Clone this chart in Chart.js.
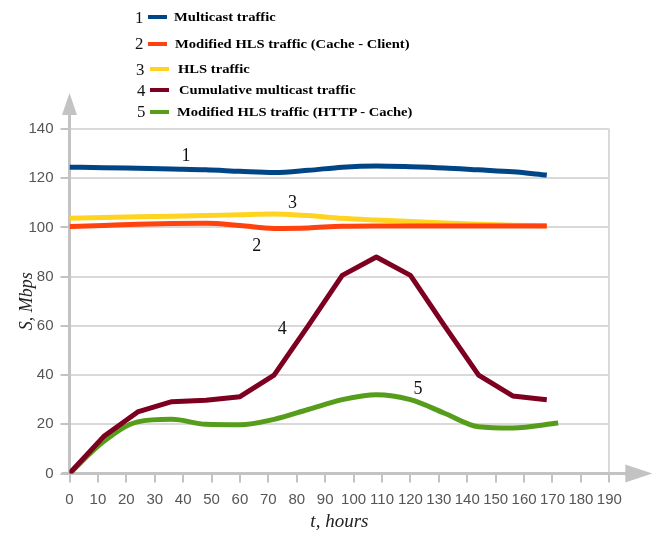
<!DOCTYPE html>
<html>
<head>
<meta charset="utf-8">
<script src="https://cdn.jsdelivr.net/npm/chart.js@4.4.1/dist/chart.umd.min.js"></script>
<style>
html,body{margin:0;padding:0;background:#fff;}
#wrap{position:relative;width:654px;height:535px;overflow:hidden;}
#c{position:absolute;left:0;top:0;}
.lnum{position:absolute;font-family:'Liberation Serif','Times New Roman',serif;font-size:16px;line-height:15px;color:#111;transform:scaleX(1.05);transform-origin:left center;}
.lsw{position:absolute;width:19px;height:4px;}
.ltxt{position:absolute;font-family:'Liberation Serif','Times New Roman',serif;font-weight:bold;font-size:12.8px;line-height:14px;color:#000;white-space:nowrap;transform:scaleX(1.14);transform-origin:left center;}
</style>
</head>
<body>
<div id="wrap">
<canvas id="c" width="654" height="535"></canvas>
<div id="legend"></div>
</div>
<script>
// ---- data ----
const hours = [0, 12, 24, 36, 48, 60, 72, 84, 96, 108, 120, 132, 144, 156, 168];
const hoursGreen = [0, 12, 24, 36, 48, 60, 72, 84, 96, 108, 120, 132, 144, 156, 172];
const multicast = [124.5, 124.3, 124, 123.7, 123.4, 122.8, 122.3, 123.2, 124.5, 125, 124.7, 124.2, 123.4, 122.6, 121.3];
const modHlsCacheClient = [100.3, 100.8, 101.3, 101.6, 101.7, 100.8, 99.6, 99.8, 100.5, 100.6, 100.6, 100.6, 100.6, 100.6, 100.6];
const hlsTraffic = [103.7, 104, 104.3, 104.5, 104.8, 105.2, 105.5, 104.8, 103.7, 103, 102.4, 101.8, 101.3, 100.9, 100.7];
const cumulativeMulticast = [0, 15, 25, 29.2, 29.8, 31.2, 40, 60, 80.5, 88, 80.5, 60, 40, 31.5, 30];
const modHlsHttpCache = [0, 13, 21, 22, 20, 19.8, 22, 26, 30, 32, 30, 24.5, 19, 18.5, 20.5];
const seriesNumbers = ['1', '2', '3', '4', '5'];
const seriesNames = ['Multicast traffic', 'Modified HLS traffic (Cache - Client)', 'HLS traffic', 'Cumulative multicast traffic', 'Modified HLS traffic (HTTP - Cache)'];
const xMin = 0, xMax = 190, xStep = 10;
const yMin = 0, yMax = 140, yStep = 20;
const xTitle = 't, hours';
const yTitle = 'S, Mbps';
// series number labels on the plot, in data units
const labelHours = [41, 65.9, 78.5, 74.9, 122.7];
const labelValues = [129.1, 92.5, 109.8, 58.6, 34.3];

// ---- styles ----
const colors = ['#004586', '#ff420e', '#ffd320', '#7e0021', '#579d1c'];
const legendRowY = [17, 43.5, 69, 90, 111.5];
const legendNumX = [135, 135, 136, 137, 137];
const legendSwX = [148, 148, 150, 150, 150];
const legendTxtX = [174, 175, 178, 179, 177];

function pts(xs, ys) { return xs.map((x, i) => ({x: x, y: ys[i]})); }

// legend (HTML text)
const lg = document.getElementById('legend');
seriesNames.forEach((name, i) => {
  const n = document.createElement('div');
  n.className = 'lnum'; n.textContent = seriesNumbers[i];
  n.style.left = legendNumX[i] + 'px'; n.style.top = (legendRowY[i] - 7.5) + 'px';
  lg.appendChild(n);
  const s = document.createElement('div');
  s.className = 'lsw'; s.style.background = colors[i];
  s.style.left = legendSwX[i] + 'px'; s.style.top = (legendRowY[i] - 2) + 'px';
  lg.appendChild(s);
  const t = document.createElement('div');
  t.className = 'ltxt'; t.textContent = name;
  t.style.left = legendTxtX[i] + 'px'; t.style.top = (legendRowY[i] - 7) + 'px';
  lg.appendChild(t);
});

const axisPlugin = {
  id: 'axisArrows',
  beforeDatasetsDraw(chart) {
    const {ctx, chartArea: a} = chart;
    ctx.save();
    ctx.strokeStyle = '#c3c3c3';
    ctx.fillStyle = '#c3c3c3';
    ctx.lineWidth = 3;
    // y axis
    ctx.beginPath();
    ctx.moveTo(a.left, a.bottom + 1.5);
    ctx.lineTo(a.left, a.top - 16);
    ctx.stroke();
    ctx.beginPath();
    ctx.moveTo(a.left - 7.5, a.top - 14);
    ctx.lineTo(a.left + 7.5, a.top - 14);
    ctx.lineTo(a.left, a.top - 36);
    ctx.closePath();
    ctx.fill();
    // x axis
    ctx.beginPath();
    ctx.moveTo(a.left - 8, a.bottom);
    ctx.lineTo(a.right + 18, a.bottom);
    ctx.stroke();
    ctx.beginPath();
    ctx.moveTo(a.right + 16, a.bottom - 9);
    ctx.lineTo(a.right + 16, a.bottom + 9);
    ctx.lineTo(a.right + 43, a.bottom);
    ctx.closePath();
    ctx.fill();
    ctx.restore();
  }
};

const numberLabelPlugin = {
  id: 'numberLabels',
  afterDatasetsDraw(chart) {
    const {ctx, scales: {x, y}} = chart;
    ctx.save();
    ctx.font = '18px "Liberation Serif", "Times New Roman", serif';
    ctx.fillStyle = '#111';
    ctx.textAlign = 'center';
    ctx.textBaseline = 'middle';
    seriesNumbers.forEach((n, i) => {
      ctx.fillText(n, x.getPixelForValue(labelHours[i]), y.getPixelForValue(labelValues[i]));
    });
    ctx.restore();
  }
};

const smooth = {cubicInterpolationMode: 'monotone'};
new Chart(document.getElementById('c'), {
  type: 'line',
  data: {
    datasets: [
      Object.assign({label: seriesNames[0], data: pts(hours, multicast), borderColor: colors[0]}, smooth),
      Object.assign({label: seriesNames[1], data: pts(hours, modHlsCacheClient), borderColor: colors[1]}, smooth),
      Object.assign({label: seriesNames[2], data: pts(hours, hlsTraffic), borderColor: colors[2]}, smooth),
      {label: seriesNames[3], data: pts(hours, cumulativeMulticast), borderColor: colors[3], tension: 0},
      Object.assign({label: seriesNames[4], data: pts(hoursGreen, modHlsHttpCache), borderColor: colors[4]}, smooth)
    ].map(d => Object.assign(d, {borderWidth: 5, pointRadius: 0, pointHoverRadius: 0, fill: false, borderCapStyle: 'butt', borderJoinStyle: 'round'}))
  },
  options: {
    responsive: false,
    animation: false,
    devicePixelRatio: 1,
    layout: {padding: {left: 0, top: 129, right: 44.7, bottom: 0}},
    plugins: {legend: {display: false}, tooltip: {enabled: false}, title: {display: false}},
    scales: {
      x: {
        type: 'linear', min: xMin, max: xMax,
        afterFit(s) { s.height = 61.5; },
        border: {display: false},
        grid: {
          drawOnChartArea: true, drawTicks: true, tickLength: 9, lineWidth: 2,
          color: c => (c.tick && c.tick.value === xMax) ? '#d9d9d9' : 'rgba(0,0,0,0)',
          tickColor: '#c3c3c3'
        },
        ticks: {stepSize: xStep, autoSkip: false, maxRotation: 0, minRotation: 0, padding: 8, color: '#555',
          font: {family: '"Liberation Sans", Arial, sans-serif', size: 15}},
        title: {display: true, text: xTitle, color: '#222', padding: {top: 0, bottom: 2},
          font: {family: '"Liberation Serif", "Times New Roman", serif', size: 19, style: 'italic'}}
      },
      y: {
        type: 'linear', min: yMin, max: yMax,
        afterFit(s) { s.width = 69.5; },
        border: {display: false},
        grid: {color: '#d9d9d9', lineWidth: 2, tickLength: 9, tickColor: '#c3c3c3'},
        ticks: {stepSize: yStep, padding: 7, color: '#555',
          font: {family: '"Liberation Sans", Arial, sans-serif', size: 15}},
        title: {display: true, text: yTitle, color: '#222', padding: {top: 16, bottom: 0},
          font: {family: '"Liberation Serif", "Times New Roman", serif', size: 18, style: 'italic'}}
      }
    }
  },
  plugins: [axisPlugin, numberLabelPlugin]
});
</script>
</body>
</html>
